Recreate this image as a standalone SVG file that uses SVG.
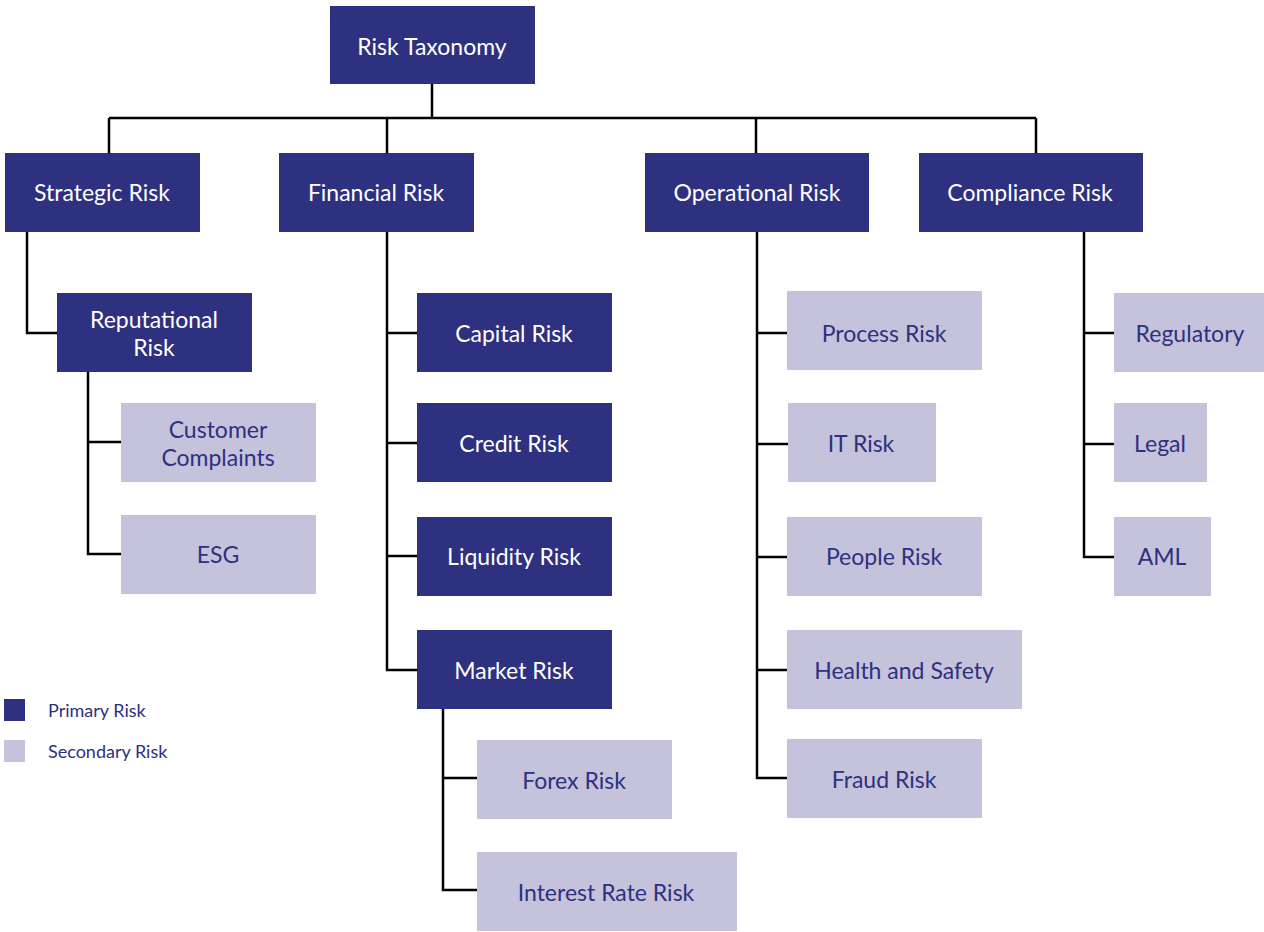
<svg xmlns="http://www.w3.org/2000/svg" width="1264" height="932" viewBox="0 0 1264 932">
  <style>
    .bg { fill: #ffffff; }
    .primary rect { fill: #2e3080; }
    .secondary rect { fill: #c5c3db; }
    text { font-family: Lato, "Open Sans", "Liberation Sans", sans-serif; font-size: 23px; text-anchor: middle; dominant-baseline: central; }
    .primary text { fill: #ffffff; }
    .secondary text { fill: #2e3080; }
    .links path { fill: none; stroke: #000000; stroke-width: 2.5; }
    .legend text { font-size: 18px; text-anchor: start; fill: #2e3080; }
  </style>
  <rect class="bg" x="0" y="0" width="1264" height="932"/>

  <!-- tree connectors -->
  <g class="links">
    <path d="M432 84 V118 M109 118 H1036 M109 118 V153 M387 118 V153 M756 118 V153 M1036 118 V153"/>
    <!-- strategic branch -->
    <path d="M27 232 V333 H57"/>
    <path d="M88 372 V554 H121 M88 442 H121"/>
    <!-- financial branch -->
    <path d="M387 232 V670 H417 M387 333 H417 M387 443 H417 M387 556 H417"/>
    <path d="M443 709 V890 H477 M443 778 H477"/>
    <!-- operational branch -->
    <path d="M757 232 V778 H787 M757 333 H787 M757 444 H788 M757 557 H787 M757 670 H787"/>
    <!-- compliance branch -->
    <path d="M1084 232 V557 H1114 M1084 333 H1114 M1084 444 H1114"/>
  </g>

  <g id="risk-taxonomy" class="primary"><rect x="330" y="6" width="205" height="78"/><text x="432" y="46">Risk Taxonomy</text></g>

  <g id="strategic-risk" class="primary"><rect x="5" y="153" width="195" height="79"/><text x="102" y="192">Strategic Risk</text></g>
  <g id="financial-risk" class="primary"><rect x="279" y="153" width="195" height="79"/><text x="376" y="192">Financial Risk</text></g>
  <g id="operational-risk" class="primary"><rect x="645" y="153" width="224" height="79"/><text x="757" y="192">Operational Risk</text></g>
  <g id="compliance-risk" class="primary"><rect x="919" y="153" width="224" height="79"/><text x="1030" y="192">Compliance Risk</text></g>

  <g id="reputational-risk" class="primary"><rect x="57" y="293" width="195" height="79"/><text x="154" y="319">Reputational</text><text x="154" y="347">Risk</text></g>
  <g id="customer-complaints" class="secondary"><rect x="121" y="403" width="195" height="79"/><text x="218" y="429">Customer</text><text x="218" y="457">Complaints</text></g>
  <g id="esg" class="secondary"><rect x="121" y="515" width="195" height="79"/><text x="218" y="554">ESG</text></g>

  <g id="capital-risk" class="primary"><rect x="417" y="293" width="195" height="79"/><text x="514" y="333">Capital Risk</text></g>
  <g id="credit-risk" class="primary"><rect x="417" y="403" width="195" height="79"/><text x="514" y="443">Credit Risk</text></g>
  <g id="liquidity-risk" class="primary"><rect x="417" y="517" width="195" height="79"/><text x="514" y="556">Liquidity Risk</text></g>
  <g id="market-risk" class="primary"><rect x="417" y="630" width="195" height="79"/><text x="514" y="670">Market Risk</text></g>
  <g id="forex-risk" class="secondary"><rect x="477" y="740" width="195" height="79"/><text x="574" y="780">Forex Risk</text></g>
  <g id="interest-rate-risk" class="secondary"><rect x="477" y="852" width="260" height="79"/><text x="606" y="892">Interest Rate Risk</text></g>

  <g id="process-risk" class="secondary"><rect x="787" y="291" width="195" height="79"/><text x="884" y="333">Process Risk</text></g>
  <g id="it-risk" class="secondary"><rect x="788" y="403" width="148" height="79"/><text x="861" y="443">IT Risk</text></g>
  <g id="people-risk" class="secondary"><rect x="787" y="517" width="195" height="79"/><text x="884" y="556">People Risk</text></g>
  <g id="health-and-safety" class="secondary"><rect x="787" y="630" width="235" height="79"/><text x="904" y="670">Health and Safety</text></g>
  <g id="fraud-risk" class="secondary"><rect x="787" y="739" width="195" height="79"/><text x="884" y="779">Fraud Risk</text></g>

  <g id="regulatory" class="secondary"><rect x="1114" y="293" width="150" height="79"/><text x="1190" y="333">Regulatory</text></g>
  <g id="legal" class="secondary"><rect x="1114" y="403" width="93" height="79"/><text x="1160" y="443">Legal</text></g>
  <g id="aml" class="secondary"><rect x="1114" y="517" width="97" height="79"/><text x="1162" y="556">AML</text></g>

  <g id="legend" class="legend">
    <rect x="4" y="699" width="21" height="22" fill="#2e3080"/>
    <text x="48" y="710">Primary Risk</text>
    <rect x="4" y="740" width="21" height="22" fill="#c5c3db"/>
    <text x="48" y="751">Secondary Risk</text>
  </g>
</svg>
